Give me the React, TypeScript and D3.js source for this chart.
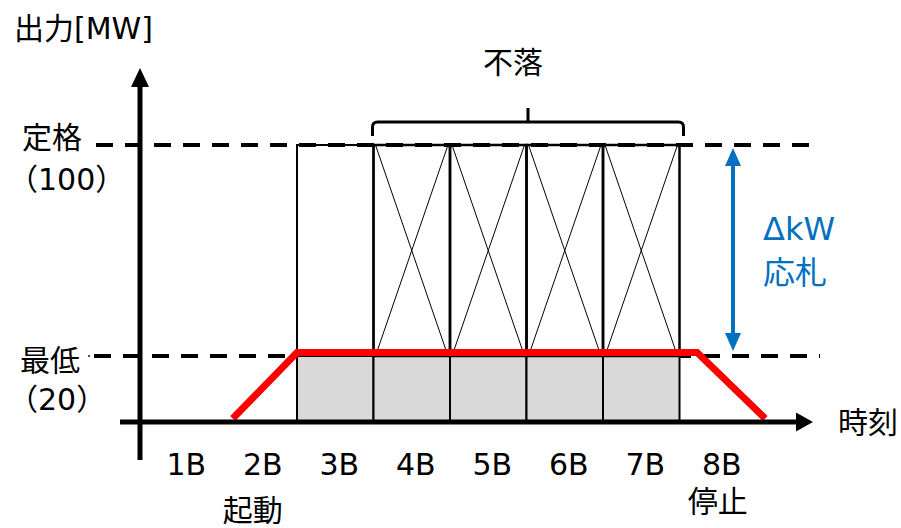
import React from "react";
import * as d3 from "d3";

// Time blocks along the horizontal axis
const blocks = ["1B", "2B", "3B", "4B", "5B", "6B", "7B", "8B"];
// Blocks in which the unit runs (rated box drawn)
const runningBlocks = ["3B", "4B", "5B", "6B", "7B"];
// Blocks offered as ΔkW (crossed boxes)
const offeredBlocks = ["4B", "5B", "6B", "7B"];
// Output levels
const ratedOutput = 100;
const minOutput = 20;
// Output trajectory: time in block units, output in MW
const trajT = [1.16, 2, 7.23, 8.12];
const trajMW = [0, 20, 20, 0];
// Notes under the axis
const blockNotes = [
  { block: "2B", text: "起動", dx: -6, y: 521 },
  { block: "8B", text: "停止", dx: 0, y: 512 },
];

const FONT = "'DejaVu Sans', 'Noto Sans CJK JP', sans-serif";
const BLUE = "#0070C0";

export default function App() {
  const W = 901;
  const H = 528;
  const x0 = 144;
  const step = 76.5;

  const x = d3
    .scaleBand<string>()
    .domain(blocks)
    .range([x0, x0 + step * blocks.length])
    .padding(0);
  const xt = d3.scaleLinear().domain([0, blocks.length]).range([x0, x0 + step * blocks.length]);
  // schematic (piecewise) output scale
  const y = d3.scaleLinear().domain([0, minOutput, ratedOutput]).range([422, 356, 145]);

  const axisX = 140;
  const axisY = y(0);

  const traj = d3
    .line<number>()
    .x((_, i) => xt(trajT[i]))
    .y((v) => y(v) - 3.5)(trajMW);

  const bw = x.bandwidth();
  const dash = "17,12";

  return (
    <svg width={W} height={H} style={{ position: "absolute", left: 0, top: 0 }}>
      <rect width={W} height={H} fill="#fff" />

      {/* dashed reference levels */}
      <line x1={96} x2={815} y1={y(ratedOutput)} y2={y(ratedOutput)} stroke="#000" strokeWidth={4} strokeDasharray={dash} />
      <rect x={88} y={y(minOutput) - 1} width={2} height={2} fill="#555" />
      <line x1={94} x2={820} y1={y(minOutput)} y2={y(minOutput)} stroke="#000" strokeWidth={4} strokeDasharray={dash} />

      {/* running blocks */}
      {runningBlocks.map((b) => {
        const bx = x(b)!;
        const crossed = offeredBlocks.includes(b);
        return (
          <g key={b}>
            <rect x={bx} y={y(minOutput)} width={bw} height={y(0) - y(minOutput)} fill="#D9D9D9" stroke="#000" strokeWidth={2} />
            <rect x={bx} y={y(ratedOutput)} width={bw} height={y(minOutput) - y(ratedOutput)} fill="none" stroke="#000" strokeWidth={crossed ? 2.5 : 2} />
            {crossed && (
              <g stroke="#000" strokeWidth={1}>
                <line x1={bx + 2} y1={y(ratedOutput)} x2={bx + bw - 2} y2={y(minOutput)} />
                <line x1={bx + bw - 2} y1={y(ratedOutput)} x2={bx + 2} y2={y(minOutput)} />
              </g>
            )}
          </g>
        );
      })}

      {/* output trajectory */}
      <path d={traj ?? ""} fill="none" stroke="#FF0000" strokeWidth={7} strokeLinejoin="miter" />

      {/* axes */}
      <line x1={120} x2={800} y1={axisY} y2={axisY} stroke="#000" strokeWidth={5} />
      <path d={`M813,${axisY} L796,${axisY - 9.5} L796,${axisY + 9.5} Z`} fill="#000" />
      <line x1={axisX} x2={axisX} y1={460} y2={82} stroke="#000" strokeWidth={5} />
      <path d={`M${axisX},68 L${axisX - 9},87 L${axisX + 9},87 Z`} fill="#000" />

      {/* bracket over offered blocks */}
      <path
        d={`M${x("4B")! - 1},136 L${x("4B")! - 1},127 Q${x("4B")! - 1},122 ${x("4B")! + 4},122 L${x("7B")! + bw - 1},122 Q${x("7B")! + bw + 4},122 ${x("7B")! + bw + 4},127 L${x("7B")! + bw + 4},136 M528,122 L528,108`}
        fill="none"
        stroke="#000"
        strokeWidth={3}
      />

      {/* ΔkW arrow */}
      <line x1={733} x2={733} y1={162} y2={336} stroke={BLUE} strokeWidth={4} />
      <path d={`M733,148 L725,166 L741,166 Z`} fill={BLUE} />
      <path d={`M733,351 L725,333 L741,333 Z`} fill={BLUE} />

      <g fontFamily={FONT} fontSize={30} fill="#000">
        <text x={513} y={73} textAnchor="middle">不落</text>
        <text x={763} y={240} fontSize={32} fill={BLUE}>ΔkW</text>
        <text x={763} y={284} fontSize={32} fill={BLUE}>応札</text>

        <text x={14} y={39}>出力[MW]</text>
        <text x={22} y={148}>定格</text>
        <text x={8} y={190}>（100）</text>
        <text x={20} y={371}>最低</text>
        <text x={8} y={410}>（20）</text>
        <text x={838} y={433}>時刻</text>
        {blocks.map((b) => (
          <text key={b} x={x(b)! + bw / 2 + 4} y={475} textAnchor="middle">{b}</text>
        ))}
        {blockNotes.map((n) => (
          <text key={n.text} x={x(n.block)! + bw / 2 + n.dx} y={n.y} textAnchor="middle">{n.text}</text>
        ))}
      </g>
    </svg>
  );
}
